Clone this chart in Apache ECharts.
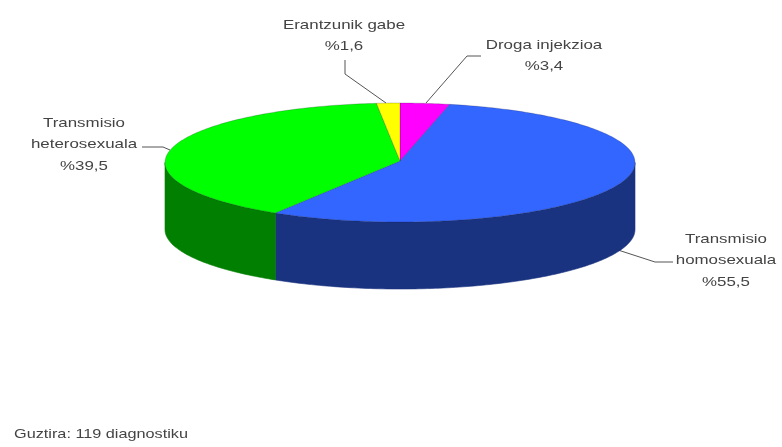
<!DOCTYPE html>
<html>
<head>
<meta charset="utf-8">
<style>html,body{margin:0;padding:0;background:#fff}#chart{width:782px;height:447px}</style>
<script src="https://cdn.jsdelivr.net/npm/echarts@6/dist/echarts.min.js"></script>
</head>
<body>
<div id="chart"></div>
<script>
// Transmission routes, in drawing order clockwise from twelve o'clock
const routes = ['Droga injekzioa', 'Transmisio homosexuala', 'Transmisio heterosexuala', 'Erantzunik gabe'];
const shares = [3.4, 55.5, 39.5, 1.6];
const topColors = ['#FF00FF', '#3366FF', '#00FF00', '#FFFF00'];
const sideColors = ['#800080', '#1A3380', '#007F00', '#808000'];
const footnote = 'Guztira: 119 diagnostiku';

// Label lines, leader paths and anchor points for each route
const labelLines = [['Droga injekzioa'], ['Transmisio', 'homosexuala'], ['Transmisio', 'heterosexuala'], ['Erantzunik gabe']];
const labelAnchors = [[544, 45], [726, 239], [84, 123], [344, 25]];
const leaders = [
  [[481, 56], [467, 56], [426, 103]],
  [[673, 262], [655, 262], [618, 250]],
  [[142, 147], [163, 147], [170, 150]],
  [[345, 60], [345, 74], [386, 103]]
];

// Disc geometry: elliptical top face with a vertical rim below it
const cx = 400, cy = 162.5, rx = 235, ry = 59.5, depth = 67;
const total = shares.reduce((a, b) => a + b, 0);

function rimPoint(turn, dy) {
  const a = turn * 2 * Math.PI;
  return [cx + rx * Math.sin(a), cy - ry * Math.cos(a) + dy];
}

function arc(from, to, dy) {
  const pts = [];
  const steps = Math.max(2, Math.ceil((to - from) * 360));
  for (let i = 0; i <= steps; i++) pts.push(rimPoint(from + (to - from) * i / steps, dy));
  return pts;
}

function renderSlice(params, api) {
  const i = params.dataIndex;
  const start = shares.slice(0, i).reduce((a, b) => a + b, 0) / total;
  const end = start + api.value(0) / total;
  const children = [];

  // Only the front half of the rim is visible
  const sideFrom = Math.max(start, 0.25), sideTo = Math.min(end, 0.75);
  if (sideTo > sideFrom) {
    children.push({
      type: 'polygon',
      shape: { points: arc(sideFrom, sideTo, 0).concat(arc(sideFrom, sideTo, depth).reverse()) },
      style: { fill: sideColors[i], stroke: sideColors[i], lineWidth: 0.6 }
    });
  }
  children.push({
    type: 'polygon',
    shape: { points: [[cx, cy - 1.5]].concat(arc(start, end, 0)) },
    style: { fill: topColors[i], stroke: 'rgba(20,20,40,0.35)', lineWidth: 0.6 }
  });
  return { type: 'group', children };
}

// Labels are set in a horizontally stretched sans
const textStyle = { fontFamily: 'Liberation Sans, Arial, sans-serif', fontSize: 13, fill: '#444444' };
const graphics = [];
routes.forEach((name, i) => {
  const rows = labelLines[i].concat('%' + String(shares[i]).replace('.', ','));
  rows.forEach((row, r) => {
    graphics.push({
      type: 'text', x: labelAnchors[i][0], y: labelAnchors[i][1] + r * 21.5, scaleX: 1.3,
      style: Object.assign({ text: row, align: 'center', verticalAlign: 'middle' }, textStyle)
    });
  });
  graphics.push({
    type: 'polyline', shape: { points: leaders[i] },
    style: { stroke: '#555', lineWidth: 1, fill: null }
  });
});
graphics.push({
  type: 'text', x: 14, y: 434, scaleX: 1.25,
  style: Object.assign({ text: footnote, align: 'left', verticalAlign: 'middle' }, textStyle)
});

const chart = echarts.init(document.getElementById('chart'), null, { renderer: 'canvas' });
chart.setOption({
  animation: false,
  backgroundColor: '#ffffff',
  graphic: graphics,
  series: [{
    type: 'custom',
    coordinateSystem: 'none',
    renderItem: renderSlice,
    data: shares.map((v, i) => ({ name: routes[i], value: [v] }))
  }]
});
</script>
</body>
</html>
